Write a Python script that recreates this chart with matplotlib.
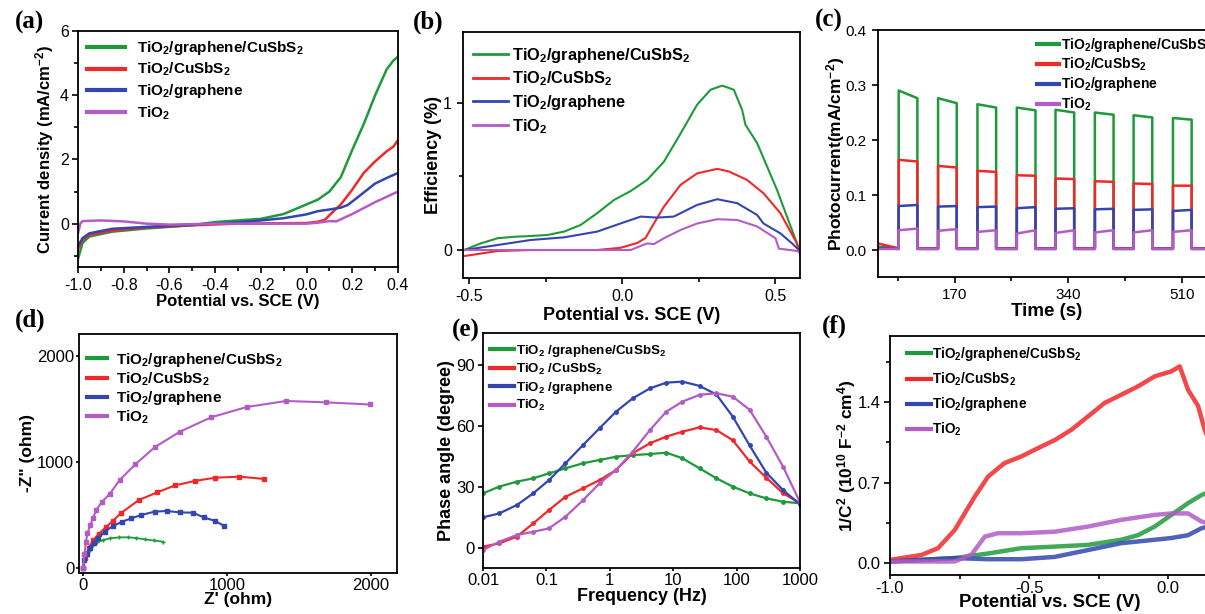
import matplotlib
matplotlib.use('Agg')
import matplotlib.pyplot as plt
from matplotlib.lines import Line2D
from matplotlib.ticker import MultipleLocator, FixedLocator, FixedFormatter, NullLocator

plt.rcParams['font.family'] = ['Liberation Sans', 'DejaVu Sans']
plt.rcParams['mathtext.fontset'] = 'custom'
plt.rcParams['mathtext.rm'] = 'Liberation Sans:bold'
plt.rcParams['mathtext.bf'] = 'Liberation Sans:bold'
plt.rcParams['mathtext.it'] = 'Liberation Sans:bold:italic'
plt.rcParams['mathtext.default'] = 'rm'
plt.rcParams['axes.unicode_minus'] = False

colors = ['#1f9a3a', '#f0282a', '#3346b0', '#b35cc6']
labels = ['TiO$_2$/graphene/CuSbS$_2$', 'TiO$_2$/CuSbS$_2$', 'TiO$_2$/graphene', 'TiO$_2$']
labels_e = ['TiO$_2$ /graphene/CuSbS$_2$', 'TiO$_2$ /CuSbS$_2$', 'TiO$_2$ /graphene', 'TiO$_2$']

# (a) LSV
a_v_green = [-1.0, -0.98, -0.95, -0.85, -0.7, -0.5, -0.4, -0.2, -0.1, 0.0, 0.05, 0.1, 0.15, 0.2, 0.25, 0.3, 0.35, 0.38, 0.4]
a_j_green = [-1.1, -0.6, -0.4, -0.25, -0.15, -0.05, 0.05, 0.15, 0.3, 0.6, 0.75, 1.0, 1.45, 2.3, 3.1, 4.0, 4.8, 5.08, 5.2]
a_v_red = [-1.0, -0.98, -0.95, -0.85, -0.7, -0.5, -0.3, 0.0, 0.05, 0.08, 0.12, 0.15, 0.2, 0.25, 0.3, 0.35, 0.37, 0.38, 0.4]
a_j_red = [-0.8, -0.5, -0.35, -0.22, -0.12, -0.05, 0.0, 0.02, 0.06, 0.12, 0.4, 0.6, 1.06, 1.58, 1.94, 2.25, 2.35, 2.4, 2.6]
a_v_blue = [-1.0, -0.98, -0.95, -0.85, -0.7, -0.5, -0.3, -0.2, -0.1, 0.0, 0.05, 0.1, 0.15, 0.18, 0.22, 0.3, 0.35, 0.4]
a_j_blue = [-0.7, -0.45, -0.3, -0.16, -0.1, -0.03, 0.04, 0.1, 0.17, 0.29, 0.39, 0.44, 0.5, 0.58, 0.8, 1.25, 1.42, 1.58]
a_v_mag = [-1.0, -0.99, -0.98, -0.9, -0.8, -0.7, -0.6, -0.4, 0.0, 0.05, 0.1, 0.13, 0.2, 0.3, 0.4]
a_j_mag = [-0.3, 0.0, 0.08, 0.1, 0.07, 0.0, -0.03, 0.0, 0.0, 0.03, 0.08, 0.07, 0.3, 0.67, 1.0]

# (b) efficiency
b_v_green = [-0.516, -0.462, -0.407, -0.353, -0.299, -0.245, -0.19, -0.136, -0.082, -0.027, 0.027, 0.081, 0.136, 0.19, 0.244, 0.288, 0.326, 0.364, 0.391, 0.402, 0.44, 0.505, 0.57, 0.586]
b_e_green = [0.0, 0.045, 0.08, 0.09, 0.095, 0.102, 0.125, 0.17, 0.25, 0.34, 0.40, 0.476, 0.60, 0.79, 0.986, 1.088, 1.116, 1.088, 0.952, 0.85, 0.726, 0.408, 0.045, -0.068]
b_v_red = [-0.516, -0.407, -0.299, -0.19, -0.082, -0.006, 0.049, 0.076, 0.103, 0.136, 0.19, 0.244, 0.31, 0.348, 0.407, 0.461, 0.516, 0.57, 0.586]
b_e_red = [-0.041, -0.007, 0.0, 0.0, 0.0, 0.015, 0.048, 0.082, 0.18, 0.295, 0.442, 0.52, 0.551, 0.533, 0.476, 0.385, 0.25, 0.045, -0.068]
b_v_blue = [-0.516, -0.407, -0.299, -0.19, -0.082, -0.006, 0.06, 0.114, 0.168, 0.244, 0.31, 0.375, 0.44, 0.461, 0.516, 0.554, 0.581]
b_e_blue = [0.0, 0.034, 0.068, 0.086, 0.125, 0.18, 0.227, 0.22, 0.227, 0.306, 0.345, 0.318, 0.238, 0.18, 0.113, 0.045, -0.01]
b_v_mag = [-0.516, -0.299, 0.027, 0.081, 0.103, 0.136, 0.19, 0.244, 0.31, 0.375, 0.44, 0.5, 0.511, 0.548, 0.581]
b_e_mag = [0.0, 0.0, 0.0, 0.045, 0.04, 0.08, 0.136, 0.18, 0.209, 0.204, 0.16, 0.08, 0.009, 0.0, -0.01]

# (c) chopped-light photocurrent
c_start = 55
c_end = 560
c_on = [86, 145, 204, 263, 321, 380, 438, 497]
c_off = [114, 173, 232, 291, 349, 408, 466, 525]
c_green_peak = [0.290, 0.276, 0.265, 0.259, 0.255, 0.250, 0.245, 0.240]
c_green_end = [0.276, 0.267, 0.259, 0.254, 0.250, 0.246, 0.241, 0.237]
c_red_peak = [0.164, 0.153, 0.144, 0.136, 0.130, 0.125, 0.121, 0.117]
c_red_end = [0.161, 0.150, 0.142, 0.135, 0.129, 0.124, 0.120, 0.117]
c_blue_peak = [0.080, 0.079, 0.078, 0.076, 0.075, 0.074, 0.073, 0.071]
c_blue_end = [0.082, 0.080, 0.079, 0.078, 0.076, 0.075, 0.074, 0.073]
c_mag_peak = [0.036, 0.035, 0.033, 0.030, 0.031, 0.032, 0.032, 0.033]
c_mag_end = [0.039, 0.038, 0.036, 0.036, 0.036, 0.036, 0.036, 0.036]
c_dark0 = [0.006, 0.012, 0.004, 0.002]
c_dark = [0.003, 0.003, 0.002, 0.002]

# (d) Nyquist
d_x_green = [0, 10, 25, 45, 70, 100, 140, 190, 250, 312, 370, 427, 490, 554]
d_y_green = [0, 60, 120, 170, 210, 240, 262, 278, 286, 287, 280, 268, 257, 245]
d_x_red = [0, 15, 40, 70, 110, 162, 208, 261, 388, 515, 640, 774, 917, 1086, 1259]
d_y_red = [0, 90, 190, 260, 320, 387, 443, 513, 639, 711, 777, 818, 849, 859, 837]
d_x_blue = [0, 10, 25, 50, 75, 104, 150, 208, 272, 335, 404, 497, 584, 670, 762, 838, 913, 982]
d_y_blue = [0, 70, 130, 190, 235, 277, 340, 393, 434, 466, 497, 529, 535, 522, 519, 475, 443, 393]
d_x_mag = [0, 10, 20, 30, 50, 70, 92, 130, 185, 254, 363, 497, 672, 889, 1137, 1409, 1686, 1990]
d_y_mag = [0, 130, 240, 324, 400, 470, 544, 620, 695, 827, 975, 1136, 1283, 1419, 1516, 1573, 1560, 1540]

# (e) Bode phase
e_freq = [0.01, 0.018, 0.034, 0.062, 0.11, 0.2, 0.38, 0.69, 1.26, 2.3, 4.3, 7.8, 14, 26, 48, 87, 160, 295, 540, 1000]
e_green = [26.9, 30.2, 32.6, 34.3, 36.7, 39.2, 41.7, 43.3, 44.9, 45.7, 46.2, 46.9, 44.1, 39.2, 34.3, 30.2, 26.9, 24.4, 22.8, 22.0]
e_red = [0.7, 2.3, 5.6, 12.1, 18.7, 25.2, 29.4, 33.4, 38.4, 46.6, 51.5, 54.8, 57.2, 59.3, 58.0, 53.0, 42.6, 34.5, 27.0, 22.0]
e_blue = [15.1, 17.0, 21.1, 26.9, 33.4, 41.7, 50.7, 58.9, 67.1, 73.6, 78.5, 81.3, 81.8, 79.7, 75.5, 64.6, 50.5, 37.0, 28.5, 21.5]
e_mag = [-1.0, 3.1, 6.4, 8.0, 9.7, 15.4, 23.6, 31.8, 38.4, 47.4, 58.0, 67.1, 72.0, 75.3, 76.1, 74.4, 68.0, 54.7, 40.0, 22.5]
e_ticks = [0.01, 0.1, 1, 10, 100, 1000]
e_ticklabels = ['0.01', '0.1', '1', '10', '100', '1000']

# (f) Mott-Schottky
f_v_red = [-1.0, -0.887, -0.827, -0.767, -0.731, -0.695, -0.647, -0.588, -0.528, -0.468, -0.408, -0.348, -0.288, -0.228, -0.168, -0.108, -0.048, 0.012, 0.042, 0.072, 0.108, 0.132, 0.15]
f_c_red = [0.024, 0.067, 0.127, 0.286, 0.432, 0.577, 0.752, 0.87, 0.927, 1.0, 1.07, 1.16, 1.277, 1.395, 1.467, 1.54, 1.627, 1.671, 1.715, 1.51, 1.37, 1.16, 1.05]
f_v_green = [-1.0, -0.767, -0.647, -0.528, -0.408, -0.288, -0.168, -0.108, -0.048, 0.012, 0.072, 0.12, 0.15]
f_c_green = [0.01, 0.04, 0.08, 0.126, 0.14, 0.155, 0.2, 0.24, 0.315, 0.417, 0.52, 0.59, 0.62]
f_v_blue = [-1.0, -0.767, -0.647, -0.528, -0.408, -0.288, -0.168, -0.048, 0.012, 0.072, 0.12, 0.15]
f_c_blue = [0.01, 0.04, 0.03, 0.03, 0.05, 0.11, 0.17, 0.2, 0.215, 0.24, 0.3, 0.32]
f_v_mag = [-1.0, -0.767, -0.707, -0.659, -0.612, -0.528, -0.408, -0.288, -0.168, -0.048, 0.012, 0.072, 0.12, 0.15]
f_c_mag = [0.01, 0.01, 0.07, 0.227, 0.257, 0.257, 0.27, 0.315, 0.374, 0.417, 0.43, 0.43, 0.36, 0.34]

W, H = 1205, 614
fig = plt.figure(figsize=(W / 100, H / 100), dpi=100)


def add_axes(left, top, right, bottom):
    return fig.add_axes([left / W, 1 - bottom / H, (right - left) / W, (bottom - top) / H])


def style(ax, size=11.5, xlen=4.5, xpad=3.5, ylen=4.5, ypad=3.5):
    for s in ax.spines.values():
        s.set_linewidth(1.3)
    ax.tick_params(which='both', direction='out', width=1.2, labelsize=size)
    ax.tick_params(axis='x', which='major', length=xlen, pad=xpad)
    ax.tick_params(axis='y', which='major', length=ylen, pad=ypad)
    ax.tick_params(which='minor', length=3)


def legend(ax, labs, x, y, fs, hl, pad, sp, lw=3.0):
    handles = [Line2D([], [], color=c, lw=lw) for c in colors]
    ax.legend(handles, labs, loc='upper left', bbox_to_anchor=(x, y), frameon=False,
              borderpad=0, borderaxespad=0, handlelength=hl, handletextpad=pad,
              labelspacing=sp, prop={'size': fs, 'weight': 'bold'})


def panel(x, y, s):
    fig.text(x / W, 1 - y / H, s, family='Liberation Serif', weight='bold', size=18,
             ha='center', va='center')


# ---- (a)
ax = add_axes(78, 31, 398, 267)
for v, j, c in zip([a_v_green, a_v_red, a_v_blue, a_v_mag], [a_j_green, a_j_red, a_j_blue, a_j_mag], colors):
    ax.plot(v, j, color=c, lw=1.8)
ax.set_xlim(-1.0, 0.4)
ax.set_ylim(-1.35, 6)
ax.set_xticks([-1.0, -0.8, -0.6, -0.4, -0.2, 0.0, 0.2, 0.4], ['-1.0', '-0.8', '-0.6', '-0.4', '-0.2', '0.0', '0.2', '0.4'])
ax.xaxis.set_minor_locator(MultipleLocator(0.1))
ax.yaxis.set_major_locator(MultipleLocator(2))
ax.yaxis.set_minor_locator(MultipleLocator(1))
style(ax, ypad=2.0)
ax.set_xlabel('Potential vs. SCE (V)', fontsize=12, fontweight='bold')
ax.set_ylabel('Current density (mA/cm$^{-2}$)', fontsize=12, fontweight='bold')
ax.xaxis.set_label_coords(0.5, -0.115)
ax.yaxis.set_label_coords(-0.068, 0.5)
legend(ax, labels, 0.028, 0.965, 11, 2.5, 0.8, 0.25)
panel(30, 22, '(a)')

# ---- (b)
ax = add_axes(463, 32, 800, 278)
for v, e, c in zip([b_v_green, b_v_red, b_v_blue, b_v_mag], [b_e_green, b_e_red, b_e_blue, b_e_mag], colors):
    ax.plot(v, e, color=c, lw=1.5)
ax.set_xlim(-0.52, 0.58)
ax.set_ylim(-0.19, 1.48)
ax.set_xticks([-0.5, 0.0, 0.5], ['-0.5', '0.0', '0.5'])
ax.xaxis.set_minor_locator(FixedLocator([-0.25, 0.25]))
ax.set_yticks([0, 1], ['0', '1'])
ax.yaxis.set_minor_locator(FixedLocator([0.5]))
style(ax)
ax.set_xlabel('Potential vs. SCE (V)', fontsize=13, fontweight='bold')
ax.set_ylabel('Efficiency (%)', fontsize=13, fontweight='bold')
ax.xaxis.set_label_coords(0.5, -0.118)
ax.yaxis.set_label_coords(-0.062, 0.5)
legend(ax, labels, 0.03, 0.945, 11.8, 2.1, 0.25, 0.3, lw=2.0)
panel(428, 22, '(b)')

# ---- (c)
ax = add_axes(878, 30, 1215, 277)
for k, (pk, en) in enumerate([(c_green_peak, c_green_end), (c_red_peak, c_red_end),
                              (c_blue_peak, c_blue_end), (c_mag_peak, c_mag_end)]):
    t = [c_start]
    y = [c_dark0[k]]
    for on, off, p, e in zip(c_on, c_off, pk, en):
        t += [on, on, off, off]
        y += [c_dark[k], p, e, c_dark[k]]
    t.append(c_end)
    y.append(c_dark[k])
    ax.plot(t, y, color=colors[k], lw=1.8)
ax.set_xlim(c_start, c_end)
ax.set_ylim(-0.049, 0.4)
ax.set_xticks([170, 340, 510], ['170', '340', '510'])
ax.xaxis.set_minor_locator(FixedLocator([85, 255, 425]))
ax.set_yticks([0.0, 0.1, 0.2, 0.3, 0.4], ['0.0', '0.1', '0.2', '0.3', '0.4'])
style(ax, 11)
ax.set_xlabel('Time (s)', fontsize=13.5, fontweight='bold')
ax.set_ylabel('Photocurrent(mA/cm$^{-2}$)', fontsize=12.5, fontweight='bold')
ax.xaxis.set_label_coords(0.5, -0.105)
ax.yaxis.set_label_coords(-0.092, 0.5)
legend(ax, labels, 0.472, 0.976, 10, 1.6, 0.15, 0.15)
panel(829, 20, '(c)')

# ---- (d)
ax = add_axes(79, 334, 397, 573)
ax.plot(d_x_green, d_y_green, color=colors[0], lw=1.3, marker='+', ms=3)
ax.plot(d_x_red, d_y_red, color=colors[1], lw=1.5, marker='s', ms=3.5)
ax.plot(d_x_blue, d_y_blue, color=colors[2], lw=1.5, marker='s', ms=3.5)
ax.plot(d_x_mag, d_y_mag, color=colors[3], lw=1.5, marker='s', ms=3)
ax.set_xlim(-28, 2180)
ax.set_ylim(-50, 2205)
ax.set_xticks([0, 1000, 2000], ['0', '1000', '2000'])
ax.set_yticks([0, 1000, 2000], ['0', '1000', '2000'])
style(ax, 12, xlen=2.5, xpad=1.0, ylen=2.5, ypad=1.0)
ax.set_xlabel("Z' (ohm)", fontsize=12.5, fontweight='bold')
ax.set_ylabel('-Z" (ohm)', fontsize=12.5, fontweight='bold')
ax.xaxis.set_label_coords(0.5, -0.08)
ax.yaxis.set_label_coords(-0.138, 0.5)
legend(ax, labels, 0.025, 0.93, 11, 1.3, 0.6, 0.1)
panel(30, 320, '(d)')

# ---- (e)
ax = add_axes(483, 333, 800, 568)
for yv, c in zip([e_green, e_red, e_blue, e_mag], colors):
    ax.plot(e_freq, yv, color=c, lw=1.6, marker='o', ms=2.5)
ax.set_xscale('log')
ax.set_xlim(0.01, 1000)
ax.set_ylim(-9.8, 105.7)
ax.xaxis.set_major_locator(FixedLocator(e_ticks))
ax.xaxis.set_major_formatter(FixedFormatter(e_ticklabels))
ax.xaxis.set_minor_locator(NullLocator())
ax.set_yticks([0, 30, 60, 90], ['0', '30', '60', '90'])
style(ax, 12, xlen=2.5, xpad=0.8, ylen=3.5, ypad=2.5)
ax.set_xlabel('Frequency (Hz)', fontsize=13, fontweight='bold')
ax.set_ylabel('Phase angle (degree)', fontsize=13, fontweight='bold')
ax.xaxis.set_label_coords(0.5, -0.086)
ax.yaxis.set_label_coords(-0.088, 0.5)
legend(ax, labels_e, 0.022, 0.957, 9.6, 1.8, 0.15, 0.2)
panel(466, 330, '(e)')

# ---- (f)
ax = add_axes(890, 336, 1210, 575)
for v, cc, c in zip([f_v_green, f_v_red, f_v_blue, f_v_mag], [f_c_green, f_c_red, f_c_blue, f_c_mag], colors):
    ax.plot(v, cc, color=c, lw=3.2, alpha=0.85)
ax.set_xlim(-1.0, 0.151)
ax.set_ylim(-0.108, 1.98)
ax.set_xticks([-1.0, -0.5, 0.0], ['-1.0', '-0.5', '0.0'])
ax.xaxis.set_minor_locator(FixedLocator([-0.75, -0.25]))
ax.set_yticks([0.0, 0.7, 1.4], ['0.0', '0.7', '1.4'])
ax.yaxis.set_minor_locator(FixedLocator([0.35, 1.05, 1.75]))
style(ax, 12, xlen=3.0, xpad=1.0, ypad=2.5)
ax.set_xlabel('Potential vs. SCE (V)', fontsize=13.3, fontweight='bold')
ax.set_ylabel('1/C$^2$ (10$^{10}$ F$^{-2}$ cm$^4$)', fontsize=12.5, fontweight='bold')
ax.xaxis.set_label_coords(0.5, -0.078)
ax.yaxis.set_label_coords(-0.1, 0.5)
legend(ax, labels, 0.053, 0.962, 9.8, 1.8, 0.05, 0.55)
panel(834, 326, '(f)')

fig.savefig('out.png', dpi=100, facecolor='white')
